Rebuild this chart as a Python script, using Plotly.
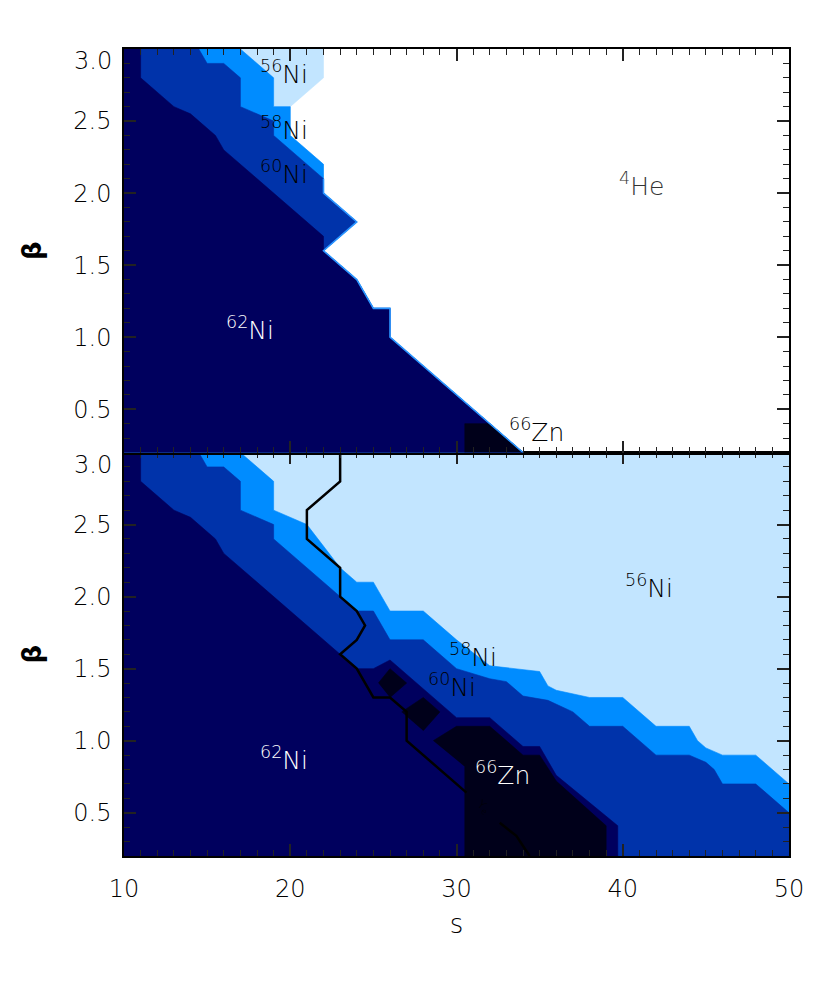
import plotly.graph_objects as go

# ---------------- axis ranges ----------------
S_MIN, S_MAX = 10, 50
B_MIN, B_MAX = 0.2, 3.0

# ---------------- colours per dominant nucleus ----------------
C_HE4 = "#FFFFFF"
C_NI56 = "#C2E5FF"
C_NI58 = "#008CFF"
C_NI60 = "#0033AA"
C_NI62 = "#00005E"
C_ZN66 = "#00001A"

# ---------------- TOP PANEL: upper boundary of each region (s, beta) ----------------
top_ni56_s = [22, 22, 20, 20, 22, 22, 24, 22, 24, 25, 26, 26, 34]
top_ni56_b = [3.0, 2.8, 2.6, 2.4, 2.2, 2.0, 1.8, 1.6, 1.4, 1.2, 1.2, 1.0, 0.2]

top_ni58_s = [17, 19, 19, 20, 20, 22, 22, 22, 24, 22, 24, 25, 26, 26, 34]
top_ni58_b = [3.0, 2.8, 2.6, 2.6, 2.4, 2.2, 2.1, 2.0, 1.8, 1.6, 1.4, 1.2, 1.2, 1.0, 0.2]

top_ni60_s = [14.5, 15, 16, 17, 17, 19, 19, 22, 22, 24, 22, 24, 25, 26, 26, 34]
top_ni60_b = [3.0, 2.9, 2.9, 2.8, 2.6, 2.5, 2.4, 2.1, 2.0, 1.8, 1.6, 1.4, 1.2, 1.2, 1.0, 0.2]

top_ni62_s = [11, 11, 13, 14, 15.5, 16, 22, 22, 24, 25, 26, 26, 34]
top_ni62_b = [3.0, 2.8, 2.6, 2.55, 2.4, 2.3, 1.7, 1.6, 1.4, 1.2, 1.2, 1.0, 0.2]

top_zn66_s = [30.5, 30.5, 32, 34]
top_zn66_b = [0.2, 0.4, 0.4, 0.2]

# edge of the 4He region where the filled levels pile up
top_edge_s = [22, 22, 24, 22, 24, 25, 26, 26, 34]
top_edge_b = [2.1, 2.0, 1.8, 1.6, 1.4, 1.2, 1.2, 1.0, 0.2]

# ---------------- BOTTOM PANEL ----------------
bot_ni58_s = [17, 19, 19, 21, 23, 24, 25, 26, 28, 30, 32, 35, 35.5, 36, 38, 40, 42, 44, 44.5, 45, 46, 48, 50]
bot_ni58_b = [3.0, 2.8, 2.6, 2.5, 2.2, 2.1, 2.1, 1.9, 1.9, 1.7, 1.52, 1.48, 1.38, 1.35, 1.3, 1.3, 1.1, 1.1, 1.0, 0.95, 0.9, 0.9, 0.7]

bot_ni60_s = [14.5, 15, 16, 17, 17, 19, 19, 24, 25, 26, 28, 30, 32, 33, 34, 35.5, 37, 38, 40, 42, 44, 45, 45.5, 46, 48, 50]
bot_ni60_b = [3.0, 2.9, 2.9, 2.8, 2.6, 2.5, 2.4, 1.9, 1.9, 1.7, 1.7, 1.5, 1.43, 1.41, 1.31, 1.28, 1.2, 1.1, 1.1, 0.9, 0.9, 0.85, 0.8, 0.7, 0.7, 0.5]

bot_ni62_s = [11, 11, 13, 14, 15.5, 16, 23, 24, 25, 26, 30, 32, 34, 35, 36, 39.7, 39.7]
bot_ni62_b = [3.0, 2.8, 2.6, 2.55, 2.4, 2.3, 1.6, 1.5, 1.5, 1.56, 1.16, 1.16, 0.96, 0.96, 0.76, 0.41, 0.2]

bot_zn66_main_s = [28.6, 30, 32, 34, 35, 36, 39, 39, 30.5, 30.5]
bot_zn66_main_b = [1.0, 1.1, 1.1, 0.9, 0.9, 0.72, 0.41, 0.2, 0.2, 0.82]
bot_zn66_d1_s = [25.3, 26, 27, 26]
bot_zn66_d1_b = [1.4, 1.5, 1.4, 1.3]
bot_zn66_d2_s = [26.7, 28, 29, 28]
bot_zn66_d2_b = [1.2, 1.3, 1.2, 1.07]

# Ye contour line (bottom panel); None = gap for its label
ye_s = [23, 23, 21, 21, 23, 23, 24, 24.5, 24, 23, 24, 25, 26, 27, 27, 30.6, None, 32.6, 33.6, 34.4]
ye_b = [3.0, 2.8, 2.6, 2.4, 2.2, 2.0, 1.9, 1.8, 1.7, 1.6, 1.5, 1.3, 1.3, 1.2, 1.0, 0.64, None, 0.43, 0.34, 0.2]

# ---------------- labels ----------------
top_lbl_text = ["<sup>56</sup>Ni", "<sup>58</sup>Ni", "<sup>60</sup>Ni", "<sup>4</sup>He", "<sup>62</sup>Ni", "<sup>66</sup>Zn"]
top_lbl_s = [19.6, 19.6, 19.6, 41.1, 17.6, 34.8]
top_lbl_b = [2.84, 2.45, 2.14, 2.06, 1.06, 0.35]
top_lbl_col = ["black", "black", "black", "#333333", "white", "black"]

bot_lbl_text = ["<sup>56</sup>Ni", "<sup>58</sup>Ni", "<sup>60</sup>Ni", "<sup>62</sup>Ni", "<sup>66</sup>Zn"]
bot_lbl_s = [41.6, 31.0, 29.75, 19.6, 32.75]
bot_lbl_b = [2.07, 1.59, 1.38, 0.88, 0.77]
bot_lbl_col = ["black", "black", "black", "white", "white"]

y_tick_vals = [0.5, 1.0, 1.5, 2.0, 2.5]
y_top_tick = 3.0

FONT = "DejaVu Sans"
WEIGHT = 200

fig = go.Figure()


def add_region(s, b, color, xa, ya):
    xs, ys = list(s), list(b)
    if xs[-1] >= S_MAX and ys[-1] > B_MIN:
        xs.append(S_MAX)
        ys.append(B_MIN)
    xs += [S_MIN, S_MIN]
    ys += [B_MIN, B_MAX]
    fig.add_trace(go.Scatter(x=xs, y=ys, fill="toself", fillcolor=color, mode="lines",
                             line=dict(color=color, width=0.6), hoverinfo="skip",
                             showlegend=False, xaxis=xa, yaxis=ya))


def add_patch(s, b, color, xa, ya):
    fig.add_trace(go.Scatter(x=list(s), y=list(b), fill="toself", fillcolor=color, mode="lines",
                             line=dict(color=color, width=0.6), hoverinfo="skip",
                             showlegend=False, xaxis=xa, yaxis=ya))


# top panel (x2, y2)
add_region(top_ni56_s, top_ni56_b, C_NI56, "x2", "y2")
add_region(top_ni58_s, top_ni58_b, C_NI58, "x2", "y2")
add_region(top_ni60_s, top_ni60_b, C_NI60, "x2", "y2")
add_region(top_ni62_s, top_ni62_b, C_NI62, "x2", "y2")
add_patch(top_zn66_s, top_zn66_b, C_ZN66, "x2", "y2")
fig.add_trace(go.Scatter(x=top_edge_s, y=top_edge_b, mode="lines",
                         line=dict(color="#2A95FF", width=1.6), hoverinfo="skip",
                         showlegend=False, xaxis="x2", yaxis="y2"))

# bottom panel (x, y)
add_region(bot_ni58_s, bot_ni58_b, C_NI58, "x", "y")
add_region(bot_ni60_s, bot_ni60_b, C_NI60, "x", "y")
add_region(bot_ni62_s, bot_ni62_b, C_NI62, "x", "y")
add_patch(bot_zn66_main_s, bot_zn66_main_b, C_ZN66, "x", "y")
add_patch(bot_zn66_d1_s, bot_zn66_d1_b, C_ZN66, "x", "y")
add_patch(bot_zn66_d2_s, bot_zn66_d2_b, C_ZN66, "x", "y")
fig.add_trace(go.Scatter(x=ye_s, y=ye_b, mode="lines", connectgaps=False,
                         line=dict(color="black", width=2.5), hoverinfo="skip",
                         showlegend=False, xaxis="x", yaxis="y"))

annotations = []
for t, s, b, c in zip(top_lbl_text, top_lbl_s, top_lbl_b, top_lbl_col):
    annotations.append(dict(text=t, x=s, y=b, xref="x2", yref="y2", showarrow=False,
                            font=dict(family=FONT, size=25, color=c, weight=WEIGHT)))
for t, s, b, c in zip(bot_lbl_text, bot_lbl_s, bot_lbl_b, bot_lbl_col):
    annotations.append(dict(text=t, x=s, y=b, xref="x", yref="y", showarrow=False,
                            font=dict(family=FONT, size=25, color=c, weight=WEIGHT)))
annotations.append(dict(text="Y<sub>e</sub>", x=31.6, y=0.54, xref="x", yref="y", showarrow=False,
                        textangle=40, font=dict(family=FONT, size=12, color="black", weight=WEIGHT)))
# the top tick label of each panel sits a little below its tick
for ya in ("y", "y2"):
    annotations.append(dict(text=f"{y_top_tick:.1f}", x=0, xref="paper", xanchor="right", xshift=-10,
                            y=y_top_tick, yref=ya, yanchor="middle", yshift=-12, showarrow=False,
                            font=dict(family=FONT, size=24, color="black", weight=WEIGHT)))

tickfont = dict(family=FONT, size=24, color="black", weight=WEIGHT)
common_x = dict(range=[S_MIN, S_MAX], showgrid=False, zeroline=False, showline=True,
                linecolor="black", linewidth=1.5, mirror="ticks", ticks="inside", ticklen=12,
                tickwidth=1.5, tickcolor="#222222", dtick=10, tick0=10,
                minor=dict(ticks="inside", ticklen=6, dtick=1, tickcolor="#222222", tickwidth=1),
                tickfont=tickfont)
common_y = dict(range=[B_MIN, B_MAX], showgrid=False, zeroline=False, showline=True,
                linecolor="black", linewidth=1.5, mirror="ticks", ticks="inside", ticklen=12,
                tickwidth=1.5, tickcolor="#222222",
                tickvals=y_tick_vals, tickformat=".1f",
                minor=dict(ticks="inside", ticklen=6, dtick=0.1, tick0=0, tickcolor="#222222", tickwidth=1),
                tickfont=tickfont, ticklabelstandoff=6,
                title=dict(text="<b>β</b>", font=dict(family=FONT, size=26, color="black"), standoff=24))

fig.update_layout(
    width=822, height=1000,
    margin=dict(l=116, r=41, t=41, b=152),
    paper_bgcolor="white", plot_bgcolor=C_HE4,
    xaxis=dict(domain=[0, 1], anchor="y", ticklabelstandoff=10,
               title=dict(text="s", font=dict(family=FONT, size=26, color="black", weight=WEIGHT), standoff=13),
               **common_x),
    yaxis=dict(domain=[0, 0.5], anchor="x", **common_y),
    xaxis2=dict(domain=[0, 1], anchor="y2", matches="x", showticklabels=False, **common_x),
    yaxis2=dict(domain=[0.5, 1], anchor="x2", **common_y),
    shapes=[dict(type="rect", xref="x domain", yref="y domain", x0=0, x1=1, y0=0, y1=1,
                 fillcolor=C_NI56, line=dict(width=0), layer="below")],
    annotations=annotations,
    showlegend=False,
)

fig.write_html("out.html")
